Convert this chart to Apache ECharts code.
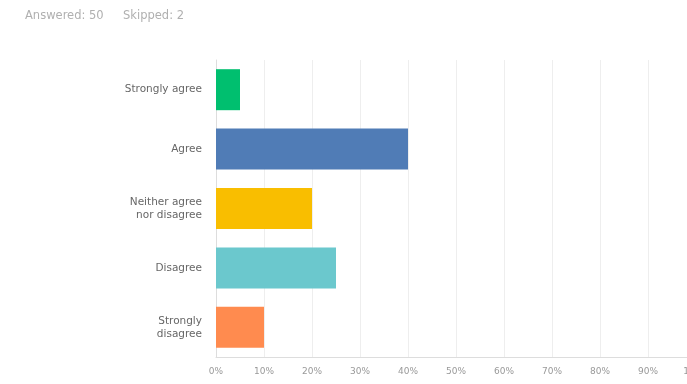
<!DOCTYPE html>
<html>
<head>
<meta charset="utf-8">
<script src="https://cdn.jsdelivr.net/npm/echarts@6/dist/echarts.min.js"></script>
<style>
  html, body { margin: 0; padding: 0; background: #fff; overflow: hidden; }
  /* the plot runs slightly past the right edge of the page, so the last tick is clipped */
  #chart { width: 700px; height: 384px; }
</style>
</head>
<body>
<div id="chart"></div>
<script>
// Survey answer choices, top to bottom
const categories = ['Strongly agree', 'Agree', 'Neither agree\nnor disagree', 'Disagree', 'Strongly\ndisagree'];
// Share of respondents per choice (%)
const percentages = [5, 40, 20, 25, 10];
const barColors = ['#00bf6f', '#507cb6', '#f9be00', '#6bc8cd', '#ff8b4f'];
const answeredCount = 50;
const skippedCount = 2;

const FONT = '"DejaVu Sans", Verdana, sans-serif';
const chart = echarts.init(document.getElementById('chart'), null, { renderer: 'canvas' });

chart.setOption({
  animation: false,
  textStyle: { fontFamily: FONT },
  graphic: [
    { type: 'text', left: 25, top: 10,
      style: { text: 'Answered: ' + answeredCount, fill: '#b0b0b0', fontSize: 11.5, fontFamily: FONT } },
    { type: 'text', left: 123, top: 10,
      style: { text: 'Skipped: ' + skippedCount, fill: '#b0b0b0', fontSize: 11.5, fontFamily: FONT } }
  ],
  grid: { left: 216, top: 60, width: 480, height: 297, containLabel: false, outerBoundsMode: 'none' },
  xAxis: {
    type: 'value', min: 0, max: 100, interval: 10,
    axisLabel: { formatter: '{value}%', color: '#999', fontSize: 9, margin: 10, fontFamily: FONT },
    axisLine: { show: true, lineStyle: { color: '#dddddd' } },
    axisTick: { show: false },
    splitLine: { show: true, lineStyle: { color: '#eeeeee' } }
  },
  yAxis: {
    type: 'category', data: categories, inverse: true,
    axisLabel: { color: '#666', fontSize: 10.5, margin: 14, lineHeight: 13, align: 'right', fontFamily: FONT },
    axisLine: { show: true, lineStyle: { color: '#dddddd' } },
    axisTick: { show: false },
    splitLine: { show: false }
  },
  series: [{
    type: 'bar',
    data: percentages.map((v, i) => ({ value: v, itemStyle: { color: barColors[i] } })),
    barWidth: 41
  }]
});
</script>
</body>
</html>
